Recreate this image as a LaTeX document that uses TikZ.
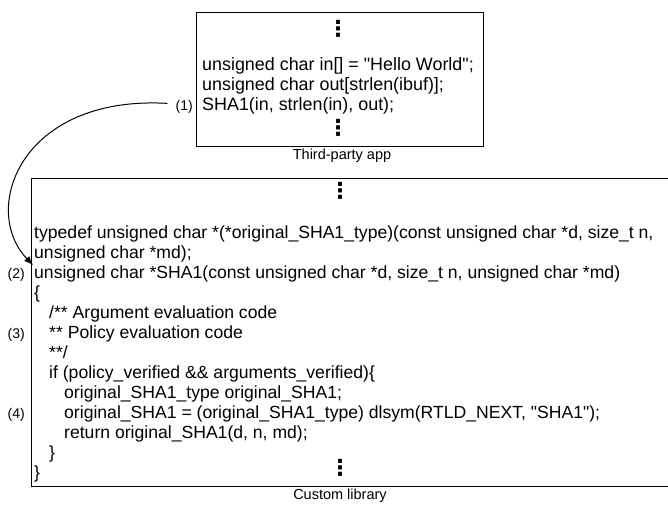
\documentclass[tikz,border=0pt]{standalone}
\usepackage{fontspec}
\setmainfont{Liberation Sans}
\newfontfamily\codefont{Liberation Sans}
\newfontfamily\dotfont{DejaVu Sans}
\usetikzlibrary{arrows.meta}

\begin{document}
\begin{tikzpicture}[x=1pt,y=-1pt,
    box/.style={draw,line width=1pt,inner sep=0pt},
    code/.style={anchor=base west,inner sep=0pt,font=\codefont\fontsize{17.6}{20}\selectfont},
    tag/.style={anchor=base east,inner sep=0pt,font=\fontsize{14}{16}\selectfont},
    caption/.style={inner sep=0pt,font=\fontsize{14.5}{17}\selectfont},
    more/.style={inner sep=0pt,font=\dotfont\fontsize{22}{22}\selectfont\bfseries}]
      \clip (0,0) rectangle (668,504);
      % third-party app
      \node[box,minimum width=287pt,minimum height=134pt] (app) at (339.5,79) {};
      \node[more] (appdots1) at (338,29) {⋮};
      \node[code,font=\codefont\fontsize{17.9}{20}\selectfont] (in) at (202,70) {unsigned char in[] = "Hello World";};
      \node[code,font=\codefont\fontsize{17.9}{20}\selectfont] (out) at (202,90) {unsigned char out[strlen(ibuf)];};
      \node[code,font=\codefont\fontsize{17.9}{20}\selectfont] (call) at (202,110) {SHA1(in, strlen(in), out);};
      \node[more] (appdots2) at (338,128) {⋮};
      \node[caption] (appname) at (342,156) {Third-party app};
      \node[tag] (lbl1) at (193,110) {(1)};
      % custom library
      \node[box,minimum width=641pt,minimum height=308pt] (lib) at (351.5,332) {};
      \node[more] (libdots1) at (340,191) {⋮};
      \node[code] (line1) at (34,238) {typedef unsigned char *(*original\_SHA1\_type)(const unsigned char *d, size\_t n,};
      \node[code] (line2) at (34,258) {unsigned char *md);};
      \node[code] (line3) at (34,278) {unsigned char *SHA1(const unsigned char *d, size\_t n, unsigned char *md)};
      \node[code] (line4) at (34,298) {\{};
      \node[code] (line5) at (49,318) {/** Argument evaluation code};
      \node[code] (line6) at (49,338) {** Policy evaluation code};
      \node[code] (line7) at (49,358) {**/};
      \node[code] (line8) at (49,378) {if (policy\_verified \&\& arguments\_verified)\{};
      \node[code] (line9) at (64,398) {original\_SHA1\_type original\_SHA1;};
      \node[code] (line10) at (64,418) {original\_SHA1 = (original\_SHA1\_type) dlsym(RTLD\_NEXT, "SHA1");};
      \node[code] (line11) at (64,438) {return original\_SHA1(d, n, md);};
      \node[code] (line12) at (49,458) {\}};
      \node[code] (line13) at (34,478) {\}};
      \node[more] (libdots2) at (340,468) {⋮};
      \node[caption] (libname) at (340,496) {Custom library};
      \node[tag] (lbl2) at (25,278) {(2)};
      \node[tag] (lbl3) at (25,338) {(3)};
      \node[tag] (lbl4) at (25,418) {(4)};
      % the call goes to the library
      \coordinate (sha1in) at (33,265);
      \draw[line width=1pt,-{Latex[length=9pt,width=7pt]}]
        ([xshift=-8pt,yshift=3pt]lbl1.west) .. controls (20,95) and (-20,210) .. (sha1in);
    \end{tikzpicture}
\end{document}
